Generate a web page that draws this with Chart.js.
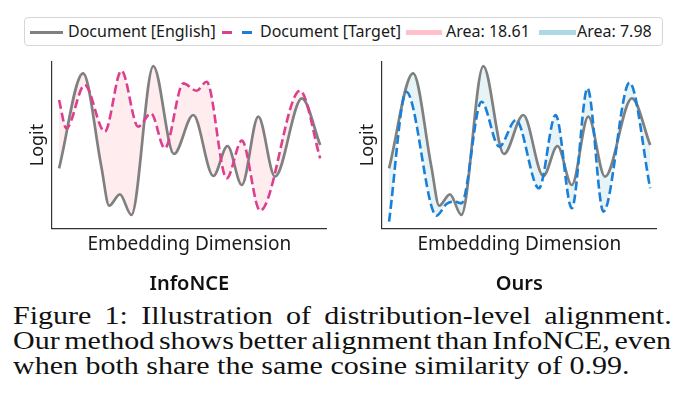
<!DOCTYPE html>
<html>
<head>
<meta charset="utf-8">
<script src="https://cdn.jsdelivr.net/npm/chart.js@4.4.1/dist/chart.umd.min.js"></script>
<style>
  html, body { margin: 0; padding: 0; background: #fff; }
  body { width: 691px; height: 419px; position: relative; overflow: hidden; font-family: "Noto Sans", sans-serif; }
  .panel { position: absolute; top: 0; width: 345px; height: 300px; }
  .legend-box { position: absolute; left: 24px; top: 17px; width: 637px; height: 27px; border: 1px solid #d6d6d6; border-radius: 4px; background: #fff; }
  .sw { position: absolute; }
  .lt { position: absolute; top: 21px; font-size: 16px; line-height: 20px; color: #1a1a1a; white-space: nowrap; }
  .cap { position: absolute; left: 13px; font-family: "Liberation Serif", "Times New Roman", serif; font-size: 25px; line-height: 25px; white-space: nowrap; transform: scaleX(1.2); transform-origin: 0 0; color: #111; }
</style>
</head>
<body>
<div class="panel" style="left:0"><canvas id="chart-1" width="345" height="300"></canvas></div>
<div class="panel" style="left:330px"><canvas id="chart-2" width="345" height="300"></canvas></div>

<div class="legend-box"></div>
<div class="sw" style="left:30px;top:30.5px;width:33px;height:3px;background:#808080"></div>
<div class="lt" style="left:68px">Document [English]</div>
<div class="sw" style="left:222px;top:30.5px;width:10px;height:3px;background:#dc3f8e"></div>
<div class="sw" style="left:242px;top:30.5px;width:10px;height:3px;background:#1a7fd6"></div>
<div class="lt" style="left:260px">Document [Target]</div>
<div class="sw" style="left:406px;top:29.5px;width:36px;height:5px;background:#ffc0cb"></div>
<div class="lt" style="left:446px">Area: 18.61</div>
<div class="sw" style="left:539px;top:29.5px;width:37px;height:5px;background:#add8e6"></div>
<div class="lt" style="left:577px">Area: 7.98</div>

<div class="cap" style="top:302.8px;word-spacing:4.8px">Figure 1: Illustration of distribution-level alignment.</div>
<div class="cap" style="top:328.4px;word-spacing:-2.4px">Our method shows better alignment than InfoNCE, even</div>
<div class="cap" style="top:352.8px">when both share the same cosine similarity of 0.99.</div>

<script>
// curve samples (x = dimension position, y = logit)
const englishX = [0, 9.2, 16.2, 19.2, 23.3, 27.7, 36.1, 44.0, 51.4, 59.1, 64.5, 70.0, 76.3, 82.7, 93.0, 100];
const englishY = [3.6, 9.3, 3.7, 1.36, 2.04, 0.8, 9.74, 4.46, 6.8, 3.14, 4.94, 2.6, 6.7, 3.1, 7.8, 5.0];

const infoTargetX = [0, 2.8, 9.8, 17.5, 23.9, 30.3, 35.2, 40.5, 47.6, 52.7, 56.5, 64.2, 70.0, 77.0, 92.3, 100];
const infoTargetY = [7.7, 6.0, 8.6, 5.8, 9.46, 6.1, 6.9, 4.8, 8.7, 8.26, 8.8, 3.0, 5.26, 1.06, 8.26, 4.2];

const oursTargetX = [0, 6.6, 18.2, 22.0, 25.2, 27.7, 35.4, 42.2, 48.6, 57.4, 63.8, 70.0, 76.0, 82.1, 92.1, 100];
const oursTargetY = [0.4, 8.2, 0.76, 1.46, 1.6, 1.5, 7.6, 4.9, 6.5, 2.4, 6.8, 1.2, 8.4, 1.0, 8.74, 2.4];

const panelTitles = ["InfoNCE", "Ours"];

function toPoints(xs, ys) {
  return xs.map((x, i) => ({ x: x, y: ys[i] }));
}

function makeChart(id, targetPts, lineColor, fillColor, titleText) {
  const ctx = document.getElementById(id).getContext("2d");
  return new Chart(ctx, {
    type: "line",
    data: {
      datasets: [
        {
          label: "Document [English]",
          data: toPoints(englishX, englishY),
          borderColor: "#808080",
          borderWidth: 2.7,
          pointRadius: 0,
          cubicInterpolationMode: "monotone",
          fill: false,
          order: 1,
        },
        {
          label: "Document [Target]",
          data: targetPts,
          borderColor: lineColor,
          borderWidth: 2.6,
          borderDash: [9, 4],
          pointRadius: 0,
          cubicInterpolationMode: "monotone",
          fill: "-1",
          backgroundColor: fillColor,
          order: 0,
        },
      ],
    },
    options: {
      responsive: false,
      animation: false,
      devicePixelRatio: 1,
      layout: { padding: { left: 0, right: 18.3, top: 61.7, bottom: 0 } },
      plugins: {
        legend: { display: false },
        tooltip: { enabled: false },
        filler: { drawTime: "beforeDatasetsDraw" },
        title: {
          display: true,
          position: "bottom",
          fullSize: false,
          text: titleText,
          color: "#111",
          font: { family: "Noto Sans", size: 20, weight: "600" },
          padding: { top: 0, bottom: 3.3 },
        },
      },
      scales: {
        x: {
          type: "linear",
          min: -2.7,
          max: 102.5,
          grid: { display: false, drawTicks: false },
          border: { display: true, color: "#333", width: 1.2 },
          ticks: { display: false },
          title: {
            display: true,
            text: "Embedding Dimension",
            color: "#1a1a1a",
            font: { family: "Noto Sans", size: 19 },
            padding: { top: 0, bottom: 16.3 },
          },
          afterFit: (s) => { s.height = 44.4; },
        },
        y: {
          min: 0,
          max: 10,
          grid: { display: false, drawTicks: false },
          border: { display: true, color: "#333", width: 1.2 },
          ticks: { display: false },
          title: {
            display: true,
            text: "Logit",
            color: "#1a1a1a",
            font: { family: "Noto Sans", size: 18 },
            padding: { top: 27.5, bottom: 0 },
          },
          afterFit: (s) => { s.width = 52; },
        },
      },
    },
  });
}

makeChart("chart-1", toPoints(infoTargetX, infoTargetY), "#dc3f8e", "rgba(255, 192, 203, 0.3)", panelTitles[0]);
makeChart("chart-2", toPoints(oursTargetX, oursTargetY), "#1a7fd6", "rgba(173, 216, 230, 0.3)", panelTitles[1]);
</script>
</body>
</html>
